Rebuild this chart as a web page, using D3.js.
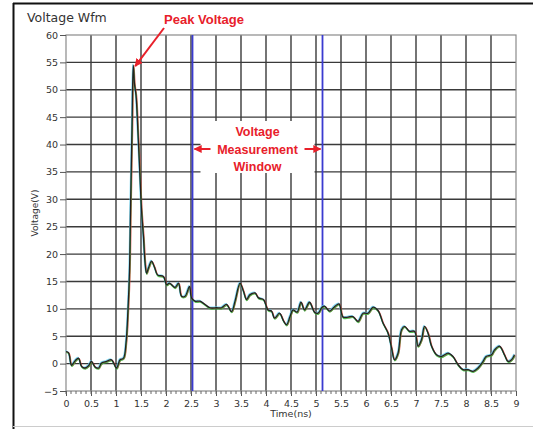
<!DOCTYPE html>
<html><head><meta charset="utf-8">
<script src="https://cdn.jsdelivr.net/npm/d3@7"></script>
<style>body{margin:0;background:#fff}svg{display:block}</style>
</head><body>
<svg id="c" width="533" height="429"></svg>
<script>
const timeNs = [0,0.05,0.11,0.18,0.25,0.31,0.38,0.45,0.51,0.58,0.65,0.71,0.81,0.91,1.01,1.08,1.15,1.2,1.24,1.27,1.29,1.32,1.345,1.37,1.4,1.44,1.48,1.51,1.55,1.58,1.61,1.65,1.71,1.77,1.83,1.95,2.01,2.07,2.18,2.25,2.31,2.38,2.47,2.51,2.58,2.68,2.78,2.88,3.01,3.11,3.21,3.31,3.38,3.48,3.55,3.61,3.68,3.78,3.85,3.95,4.04,4.11,4.17,4.27,4.35,4.41,4.48,4.54,4.62,4.7,4.77,4.87,4.97,5.04,5.12,5.17,5.27,5.37,5.46,5.54,5.64,5.74,5.84,5.94,6.04,6.14,6.24,6.34,6.44,6.51,6.57,6.64,6.71,6.77,6.87,6.97,7.04,7.11,7.17,7.24,7.31,7.41,7.51,7.64,7.74,7.84,7.94,8.04,8.14,8.24,8.34,8.4,8.51,8.57,8.67,8.77,8.84,8.91,8.97];
const voltage = [2.2,2.0,-0.3,0.5,1.0,-0.5,-0.8,-0.4,0.4,-0.6,-0.8,0.1,0.4,0.7,-0.8,0.7,1.0,3.8,10,17,28,43,54.5,51,49,42,34,28,23,18.5,16.5,17.5,18.7,17.6,16.2,15.9,14.4,14.7,13.9,14.7,12.3,12.3,14.1,12.0,11.4,11.4,10.8,10.2,10.2,10.2,10.8,9.5,11.4,14.7,13.2,11.7,12.6,12.9,12.0,11.7,9.8,9.6,8.3,9.2,7.8,7.1,8.6,9.8,9.4,11.2,9.8,11.2,9.4,9.2,10.3,10.5,9.6,10.4,10.9,8.5,8.5,8.6,7.7,9.2,9.2,10.3,9.7,7.4,5.6,2.9,0.7,1.9,6.2,6.8,5.9,5.9,3.2,4.4,6.8,5.6,3.2,1.6,1.3,1.9,1.3,-0.2,-1.1,-1.1,-1.4,-0.8,0.4,1.3,1.6,2.5,3.2,1.6,0.4,0.7,1.6];
const xTicks = [0,0.5,1,1.5,2,2.5,3,3.5,4,4.5,5,5.5,6,6.5,7,7.5,8,8.5,9];
const yTicks = [-5,0,5,10,15,20,25,30,35,40,45,50,55,60];
const windowLines = [2.53, 5.13];
const peak = {t: 1.345, v: 54.5};

const svg = d3.select("#c");
const x = d3.scaleLinear().domain([0,9]).range([66,516]);
const y = d3.scaleLinear().domain([-5,60]).range([391,35]);

// outer frame
svg.append("line").attr("x1",13).attr("x2",533).attr("y1",3.5).attr("y2",3.5).attr("stroke","#111").attr("stroke-width",2);
svg.append("line").attr("x1",13.5).attr("x2",13.5).attr("y1",3).attr("y2",429).attr("stroke","#111").attr("stroke-width",2);
svg.append("line").attr("x1",13).attr("x2",533).attr("y1",426.5).attr("y2",426.5).attr("stroke","#ccc").attr("stroke-width",1);

// grid
const g = svg.append("g");
g.selectAll(".vx").data(xTicks.slice(1,-1)).join("line")
  .attr("x1",d=>x(d)).attr("x2",d=>x(d)).attr("y1",y(60)).attr("y2",y(-5))
  .attr("stroke","#3a3a3a").attr("stroke-width",1.4);
g.selectAll(".hy").data(yTicks.slice(1,-1)).join("line")
  .attr("x1",x(0)).attr("x2",x(9)).attr("y1",d=>y(d)).attr("y2",d=>y(d))
  .attr("stroke","#3a3a3a").attr("stroke-width",1.4);
g.append("rect").attr("x",x(0)).attr("y",y(60)).attr("width",x(9)-x(0)).attr("height",y(-5)-y(60))
  .attr("fill","none").attr("stroke","#8a8a8a").attr("stroke-width",1.2);

// axes
const xAxis = d3.axisBottom(x).tickValues(xTicks).tickSize(5).tickFormat(d=>d);
const xg = svg.append("g").attr("transform",`translate(0,${y(-5)})`).call(xAxis);
const xMinor = d3.range(0,90).map(i=>i/10);
svg.append("g").selectAll("line").data(xMinor).join("line")
  .attr("x1",d=>x(d)).attr("x2",d=>x(d)).attr("y1",y(-5)).attr("y2",y(-5)+3)
  .attr("stroke","#666").attr("stroke-width",1);
const yAxis = d3.axisLeft(y).tickValues(yTicks).tickSize(6);
const yg = svg.append("g").attr("transform",`translate(${x(0)},0)`).call(yAxis);
[xg,yg].forEach(a=>{
  a.select(".domain").remove();
  a.selectAll("line").attr("stroke","#555");
  a.selectAll("text").attr("font-family","DejaVu Sans, sans-serif").attr("font-size",9.5).attr("fill","#333");
});
yg.selectAll("text").attr("x",-8);
xg.selectAll("text").attr("y",9);

// measurement window lines
svg.selectAll(".win").data(windowLines).join("line")
  .attr("x1",d=>x(d)).attr("x2",d=>x(d)).attr("y1",y(60)).attr("y2",y(-5))
  .attr("stroke","#3b3bd0").attr("stroke-width",1.8);

// waveforms
const pts = timeNs.map((t,i)=>[t,voltage[i]]);
const line = d3.line().x(d=>x(d[0])).y(d=>y(d[1])).curve(d3.curveCatmullRom.alpha(0.5));
const copies = [
  {c:"#5fd0f0", dx:-0.6, dy:-0.8},
  {c:"#e03030", dx:0.7, dy:0.6},
  {c:"#30c040", dx:0.3, dy:1.1}
];
copies.forEach(k=>{
  svg.append("path").attr("d",line(pts)).attr("fill","none").attr("stroke",k.c)
    .attr("stroke-width",1.2).attr("stroke-opacity",0.8).attr("transform",`translate(${k.dx},${k.dy})`);
});
svg.append("path").attr("d",line(pts)).attr("fill","none").attr("stroke","#222").attr("stroke-width",1.3);

// titles
svg.append("text").attr("x",27).attr("y",22).text("Voltage Wfm")
  .attr("font-family","DejaVu Sans, sans-serif").attr("font-size",12.5).attr("fill","#333");
svg.append("text").attr("transform",`translate(38,${y(27.5)}) rotate(-90)`).attr("text-anchor","middle")
  .text("Voltage(V)").attr("font-family","DejaVu Sans, sans-serif").attr("font-size",9).attr("fill","#333");
svg.append("text").attr("x",291).attr("y",417).attr("text-anchor","middle").text("Time(ns)")
  .attr("font-family","DejaVu Sans, sans-serif").attr("font-size",9.5).attr("fill","#333");

// annotations
const red = "#e8202a";
const defs = svg.append("defs");
defs.append("marker").attr("id","ah").attr("viewBox","0 0 10 10").attr("refX",9).attr("refY",5)
  .attr("markerWidth",4).attr("markerHeight",4).attr("orient","auto")
  .append("path").attr("d","M0,0L10,5L0,10z").attr("fill",red);
svg.append("text").attr("x",204).attr("y",24).attr("text-anchor","middle").text("Peak Voltage")
  .attr("font-family","Liberation Sans, Arial, sans-serif").attr("font-weight","bold").attr("font-size",13).attr("fill",red);
svg.append("line").attr("x1",164).attr("y1",28).attr("x2",x(peak.t)+2).attr("y2",y(peak.v)+1)
  .attr("stroke",red).attr("stroke-width",2).attr("marker-end","url(#ah)");

const midX = (x(windowLines[0])+x(windowLines[1]))/2;
svg.append("rect").attr("x",midX-57).attr("y",121).attr("width",114).attr("height",52).attr("fill","#fff");
["Voltage","Measurement","Window"].forEach((s,i)=>{
  svg.append("text").attr("x",midX).attr("y",136+i*17.5).attr("text-anchor","middle").text(s)
    .attr("font-family","Liberation Sans, Arial, sans-serif").attr("font-weight","bold").attr("font-size",12.5).attr("fill",red);
});
svg.append("line").attr("x1",midX-47).attr("x2",x(windowLines[0])+2).attr("y1",149).attr("y2",149)
  .attr("stroke",red).attr("stroke-width",2).attr("marker-end","url(#ah)");
svg.append("line").attr("x1",midX+47).attr("x2",x(windowLines[1])-2).attr("y1",149).attr("y2",149)
  .attr("stroke",red).attr("stroke-width",2).attr("marker-end","url(#ah)");
</script>
</body></html>
